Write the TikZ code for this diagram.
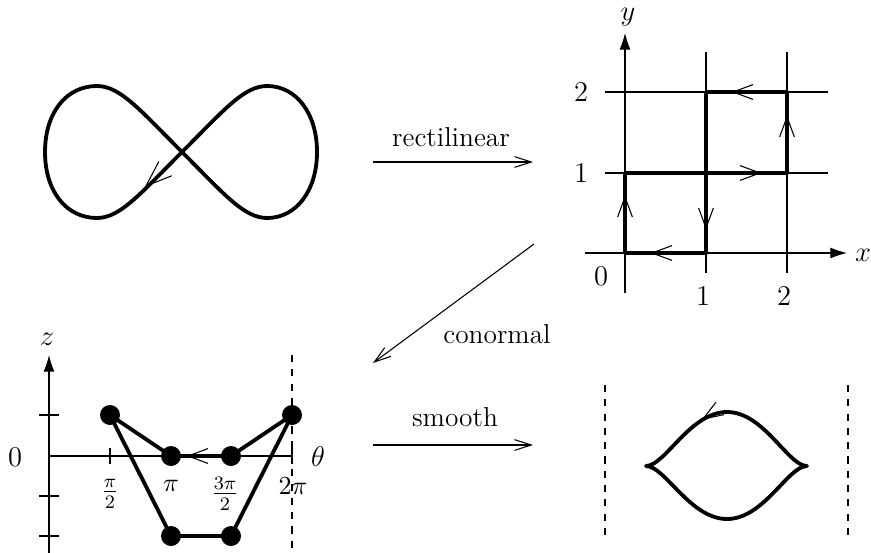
\documentclass[tikz,border=0pt]{standalone}
\usetikzlibrary{arrows.meta}
\newcommand\mybarb[4]{\draw[thinline,shift={(#1,#2)},rotate=#3] (-#4,0.37*#4) -- (0,0) -- (-#4,-0.37*#4);}
\begin{document}
\begin{tikzpicture}[x=0.42pt,y=0.42pt,
 thinline/.style={line width=0.45pt},
 thickline/.style={line width=1.6pt, line join=round},
 maparrow/.style={line width=0.45pt,-{Straight Barb[length=7pt,width=4.5pt]}},
 axisarrow/.style={line width=0.45pt,-{Latex[length=7pt,width=4.6pt]}},
 dashedline/.style={line width=0.45pt,dash pattern=on 3pt off 3pt},
 dot/.style={circle,fill,inner sep=0pt,minimum size=8.4pt},
 lbl/.style={inner sep=0pt},
 maplbl/.style={lbl,font=\fontsize{11.5}{13}\selectfont},
 biglbl/.style={lbl,font=\fontsize{12}{14}\selectfont},
 midlbl/.style={lbl,font=\fontsize{11.5}{13}\selectfont},
 smllbl/.style={lbl,font=\fontsize{10.5}{12}\selectfont},
 fraclbl/.style={lbl,font=\fontsize{11.5}{13}\selectfont},
]
\useasboundingbox (0,0) rectangle (871,-553);

% ---------- figure eight ----------
\draw[thickline] (182,-152) .. controls (224,-110) and (244,-86) .. (267,-86)
  .. controls (296,-86) and (317,-113) .. (317,-152)
  .. controls (317,-191) and (296,-218) .. (267,-218)
  .. controls (244,-218) and (224,-194) .. (182,-152)
  .. controls (140,-110) and (120,-86) .. (97,-86)
  .. controls (66,-86) and (45,-113) .. (45,-152)
  .. controls (45,-191) and (66,-218) .. (97,-218)
  .. controls (120,-218) and (140,-194) .. (182,-152) -- cycle;
\mybarb{146}{-186}{222}{26}

% ---------- map arrows ----------
\coordinate (ra) at (373,-162); \coordinate (rb) at (533,-162);
\draw[maparrow] (ra) -- (rb);
\node[maplbl] (rlbl) at (451,-137) {rectilinear};
\coordinate (ca) at (534,-244); \coordinate (cb) at (373,-363);
\draw[maparrow] (ca) -- (cb);
\node[maplbl] (clbl) at (497,-334) {conormal};
\coordinate (sa) at (373,-445); \coordinate (sb) at (533,-445);
\draw[maparrow] (sa) -- (sb);
\node[maplbl] (slbl) at (455,-417) {smooth};

% ---------- rectilinear ----------
\coordinate (xs) at (585,-253); \coordinate (xe) at (847,-253);
\coordinate (ys) at (625,-293); \coordinate (ye) at (625,-33);
\draw[axisarrow] (xs) -- (xe);
\draw[axisarrow] (ys) -- (ye);
\draw[thinline] (706,-52) -- (706,-273);
\draw[thinline] (787,-52) -- (787,-273);
\draw[thinline] (605,-173) -- (828,-173);
\draw[thinline] (605,-92) -- (828,-92);
\node[biglbl] (xl) at (863,-255) {$x$};
\node[biglbl] (yl) at (628,-17) {$y$};
\node[biglbl] (o0) at (601,-276) {$0$};
\node[biglbl] (x1) at (703,-296) {$1$};
\node[biglbl] (x2) at (784,-296) {$2$};
\node[biglbl] (y1) at (581,-173) {$1$};
\node[biglbl] (y2) at (581,-92) {$2$};
\draw[thickline] (625,-253) -- (625,-173) -- (787,-173) -- (787,-92) -- (706,-92) -- (706,-253) -- cycle;
\mybarb{652}{-253}{180}{20}
\mybarb{625}{-197}{90}{20}
\mybarb{706}{-228}{270}{20}
\mybarb{760}{-173}{0}{20}
\mybarb{787}{-117}{90}{20}
\mybarb{733}{-92}{180}{20}

% ---------- conormal ----------
\coordinate (zs) at (49,-553); \coordinate (ze) at (49,-355);
\draw[axisarrow] (zs) -- (ze);
\draw[thinline] (49,-456) -- (292,-456);
\draw[dashedline] (292,-355) -- (292,-553);
\foreach \yy in {-415,-496,-536} \draw[thinline] (39,\yy) -- (59,\yy);
\draw[thinline] (110,-448) -- (110,-464);
\draw[thinline] (292,-448) -- (292,-464);
\node[midlbl] (zl) at (47,-339) {$z$};
\node[midlbl] (t0) at (15,-457) {$0$};
\node[midlbl] (tl) at (318,-457) {$\theta$};
\node[fraclbl] (t1) at (110,-494) {$\frac{\pi}{2}$};
\node[smllbl] (t2) at (171,-486) {$\pi$};
\node[fraclbl] (t3) at (225,-494) {$\frac{3\pi}{2}$};
\node[smllbl] (t4) at (293,-486) {$2\pi$};
\node[dot] (d1) at (110,-415) {};
\node[dot] (d2) at (171,-456) {};
\node[dot] (d3) at (231,-456) {};
\node[dot] (d4) at (292,-415) {};
\node[dot] (d5) at (231,-536) {};
\node[dot] (d6) at (171,-536) {};
\draw[thickline] (d1.center) -- (d2.center) -- (d3.center) -- (d4.center) -- (d5.center) -- (d6.center) -- cycle;
\mybarb{188}{-456}{180}{20}

% ---------- smooth ----------
\draw[dashedline] (605,-385) -- (605,-538);
\draw[dashedline] (848,-385) -- (848,-538);
\draw[thickline] (646,-466) .. controls (665,-466) and (690,-412) .. (727,-412)
  .. controls (764,-412) and (788,-466) .. (807,-466)
  .. controls (788,-466) and (764,-519) .. (727,-519)
  .. controls (690,-519) and (665,-466) .. (646,-466) -- cycle;
\mybarb{703}{-419}{212}{20}
\end{tikzpicture}
\end{document}
